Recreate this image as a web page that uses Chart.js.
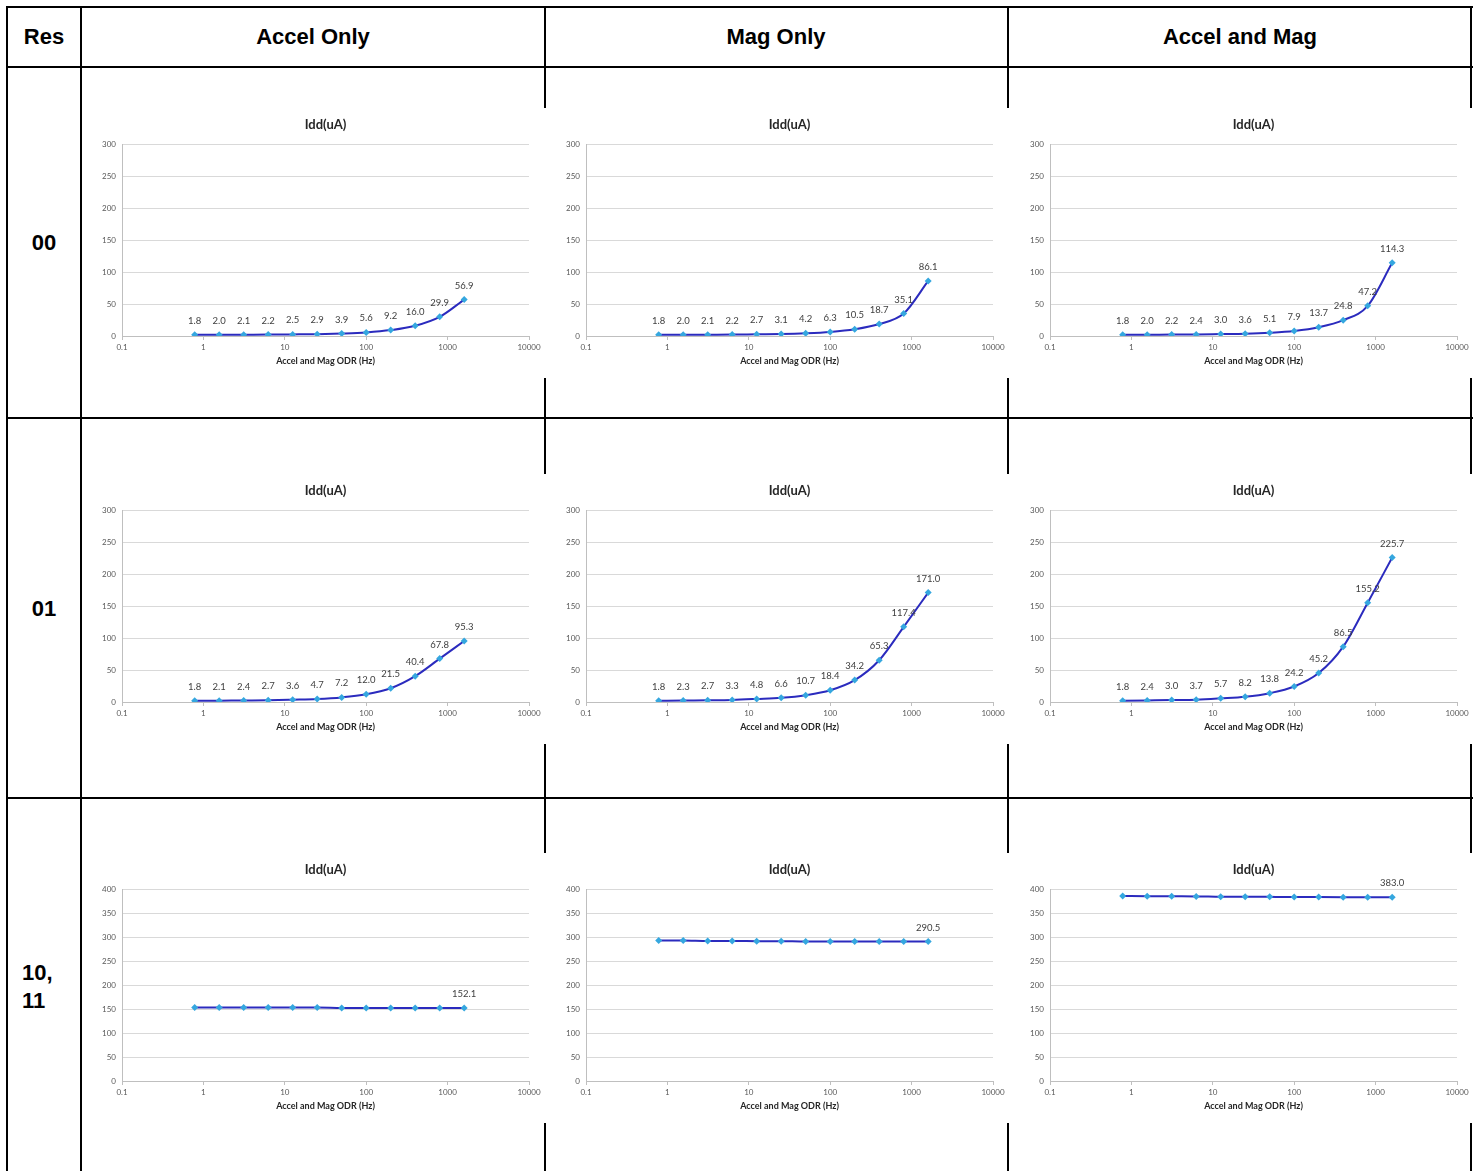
<!DOCTYPE html>
<html>
<head>
<meta charset="utf-8">
<script src="https://cdn.jsdelivr.net/npm/chart.js@4.4.0/dist/chart.umd.min.js"></script>
<style>
body { margin: 0; background: #fff; width: 1478px; height: 1171px; position: relative; overflow: hidden; font-family: "Liberation Sans", Arial, sans-serif; }
.hl { position: absolute; height: 2px; background: #000; }
.vl { position: absolute; width: 2px; background: #000; }
.txt { position: absolute; font-weight: bold; font-size: 22px; line-height: 1; color: #000; white-space: nowrap; }
.c { transform: translate(-50%, -50%); }
.l { transform: translate(0, -50%); }
canvas.cell { position: absolute; background: #fff; }
</style>
</head>
<body>

<!-- table grid -->
<div class="hl" style="left:7px; top:6px; width:1466px;"></div>
<div class="hl" style="left:7px; top:66px; width:1466px;"></div>
<div class="hl" style="left:7px; top:417px; width:1466px;"></div>
<div class="hl" style="left:7px; top:797px; width:1466px;"></div>
<div class="vl" style="left:6px; top:6px; height:1165px;"></div>
<div class="vl" style="left:80px; top:6px; height:1165px;"></div>
<div class="vl" style="left:544px; top:6px; height:1165px;"></div>
<div class="vl" style="left:1007px; top:6px; height:1165px;"></div>
<div class="vl" style="left:1470px; top:6px; height:1165px;"></div>

<div class="txt c" style="left:44px; top:37px;">Res</div>
<div class="txt c" style="left:313px; top:37px;">Accel Only</div>
<div class="txt c" style="left:776px; top:37px;">Mag Only</div>
<div class="txt c" style="left:1240px; top:37px;">Accel and Mag</div>
<div class="txt c" style="left:44px; top:243px;">00</div>
<div class="txt c" style="left:44px; top:609px;">01</div>
<div class="txt l" style="left:22px; top:973px;">10,</div>
<div class="txt l" style="left:22px; top:1001px;">11</div>

<canvas class="cell" id="c00a" width="464" height="270" style="left:83px; top:108px;"></canvas>
<canvas class="cell" id="c00m" width="464" height="270" style="left:547px; top:108px;"></canvas>
<canvas class="cell" id="c00b" width="464" height="270" style="left:1011px; top:108px;"></canvas>
<canvas class="cell" id="c01a" width="464" height="270" style="left:83px; top:474px;"></canvas>
<canvas class="cell" id="c01m" width="464" height="270" style="left:547px; top:474px;"></canvas>
<canvas class="cell" id="c01b" width="464" height="270" style="left:1011px; top:474px;"></canvas>
<canvas class="cell" id="c10a" width="464" height="270" style="left:83px; top:853px;"></canvas>
<canvas class="cell" id="c10m" width="464" height="270" style="left:547px; top:853px;"></canvas>
<canvas class="cell" id="c10b" width="464" height="270" style="left:1011px; top:853px;"></canvas>

<script>
// ODR steps (Hz) and decade tick labels
const odr = [0.78125, 1.5625, 3.125, 6.25, 12.5, 25, 50, 100, 200, 400, 800, 1600];
const xTicks = [0.1, 1, 10, 100, 1000, 10000];

// Idd (uA), Res 00
const accel00 = [1.8, 2.0, 2.1, 2.2, 2.5, 2.9, 3.9, 5.6, 9.2, 16.0, 29.9, 56.9];
const mag00 = [1.8, 2.0, 2.1, 2.2, 2.7, 3.1, 4.2, 6.3, 10.5, 18.7, 35.1, 86.1];
const both00 = [1.8, 2.0, 2.2, 2.4, 3.0, 3.6, 5.1, 7.9, 13.7, 24.8, 47.2, 114.3];

// Res 01
const accel01 = [1.8, 2.1, 2.4, 2.7, 3.6, 4.7, 7.2, 12.0, 21.5, 40.4, 67.8, 95.3];
const mag01 = [1.8, 2.3, 2.7, 3.3, 4.8, 6.6, 10.7, 18.4, 34.2, 65.3, 117.4, 171.0];
const both01 = [1.8, 2.4, 3.0, 3.7, 5.7, 8.2, 13.8, 24.2, 45.2, 86.5, 155.2, 225.7];

// Res 10, 11
const accel10 = [153.3, 153.3, 153.3, 153.3, 153.2, 153.2, 152.3, 152.2, 152.2, 152.1, 152.1, 152.1];
const mag10 = [292.8, 292.7, 291.6, 291.5, 291.4, 291.3, 290.6, 290.6, 290.5, 290.5, 290.5, 290.5];
const both10 = [385.6, 384.9, 384.7, 384.6, 383.8, 383.7, 383.6, 383.5, 383.1, 383.0, 383.0, 383.0];

Chart.defaults.font.family = 'Lato, "Open Sans", sans-serif';

// draws the value above each point (or only the last one)
const valueLabels = {
    id: 'valueLabels',
    afterDatasetsDraw(chart, args, opts) {
        const ctx = chart.ctx;
        const meta = chart.getDatasetMeta(0);
        const vals = chart.data.datasets[0].data;
        ctx.save();
        ctx.font = '9.5px Lato, "Open Sans", sans-serif';
        ctx.fillStyle = '#404040';
        ctx.textAlign = 'center';
        ctx.textBaseline = 'middle';
        meta.data.forEach((pt, i) => {
            if (opts.lastOnly && i < vals.length - 1) return;
            ctx.fillText(vals[i].y.toFixed(1), pt.x, pt.y - 14);
        });
        ctx.restore();
    }
};

function makeChart(id, values, yMax, lastOnly) {
    new Chart(document.getElementById(id), {
        type: 'line',
        data: {
            datasets: [{
                data: values.map((v, i) => ({ x: odr[i], y: v })),
                borderColor: '#2B2BBE',
                borderWidth: 2,
                cubicInterpolationMode: 'monotone',
                pointStyle: 'rectRot',
                pointRadius: 3.5,
                pointBackgroundColor: '#35A7DF',
                pointBorderColor: '#35A7DF',
                pointBorderWidth: 0
            }]
        },
        options: {
            responsive: false,
            animation: false,
            layout: { padding: { left: 10, right: 18, top: 0, bottom: 8 } },
            plugins: {
                legend: { display: false },
                tooltip: { enabled: false },
                title: {
                    display: true,
                    text: 'Idd(uA)',
                    fullSize: false,
                    color: '#262626',
                    font: { size: 13, weight: 'bold' },
                    padding: { top: 9, bottom: 11.4 }
                },
                valueLabels: { lastOnly: lastOnly }
            },
            scales: {
                x: {
                    type: 'logarithmic',
                    min: 0.1,
                    max: 10000,
                    afterBuildTicks: s => { s.ticks = xTicks.map(v => ({ value: v })); },
                    afterFit: s => { s.height = 34; },
                    ticks: {
                        callback: v => String(v),
                        font: { size: 8 },
                        color: '#595959',
                        padding: 3,
                        maxRotation: 0,
                        autoSkip: false
                    },
                    grid: { drawOnChartArea: false, tickLength: 4, color: '#BFBFBF' },
                    border: { color: '#BFBFBF' },
                    title: {
                        display: true,
                        text: 'Accel and Mag ODR (Hz)',
                        color: '#262626',
                        font: { size: 9, weight: 'bold' },
                        padding: { top: 0, bottom: 3.6 }
                    }
                },
                y: {
                    min: 0,
                    max: yMax,
                    afterFit: s => { s.width = 29; },
                    ticks: { stepSize: 50, font: { size: 8 }, color: '#595959', padding: 6 },
                    grid: { color: '#D9D9D9', drawTicks: false },
                    border: { color: '#BFBFBF' }
                }
            }
        },
        plugins: [valueLabels]
    });
}

makeChart('c00a', accel00, 300, false);
makeChart('c00m', mag00, 300, false);
makeChart('c00b', both00, 300, false);
makeChart('c01a', accel01, 300, false);
makeChart('c01m', mag01, 300, false);
makeChart('c01b', both01, 300, false);
makeChart('c10a', accel10, 400, true);
makeChart('c10m', mag10, 400, true);
makeChart('c10b', both10, 400, true);
</script>
</body>
</html>
